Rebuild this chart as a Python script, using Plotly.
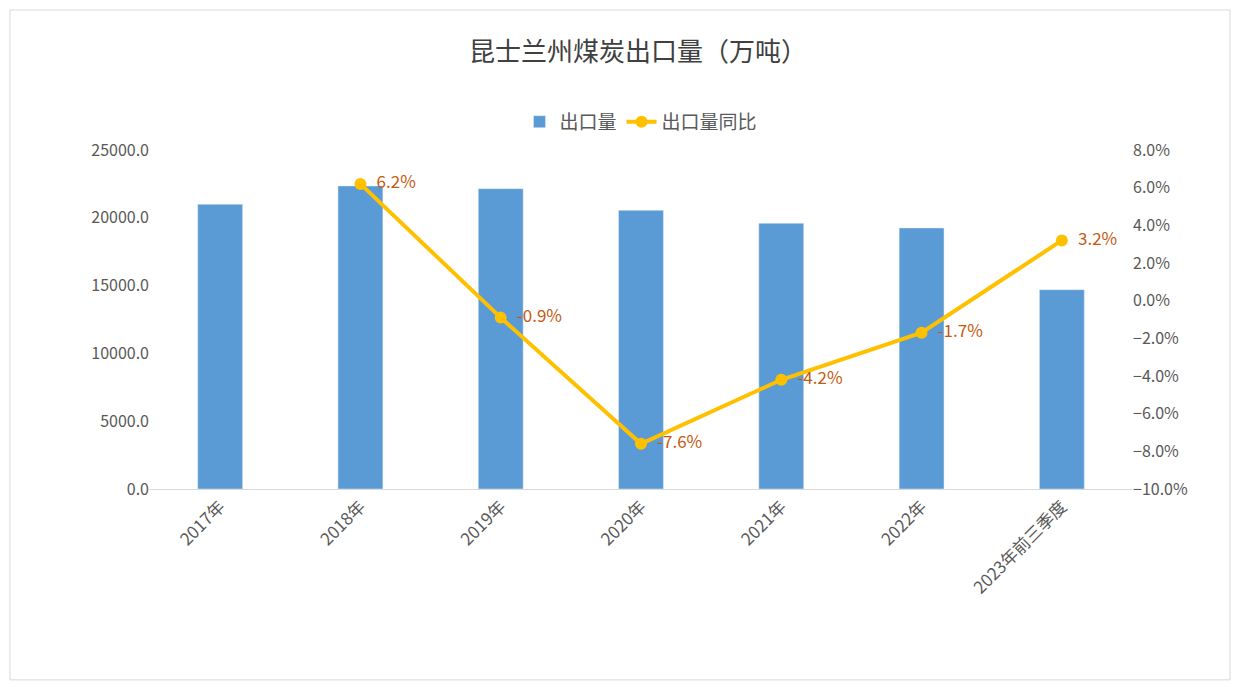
import plotly.graph_objects as go

categories = ["2017年", "2018年", "2019年", "2020年", "2021年", "2022年", "2023年前三季度"]
export_volume = [21000, 22350, 22150, 20550, 19600, 19250, 14700]
yoy_cats = ["2018年", "2019年", "2020年", "2021年", "2022年", "2023年前三季度"]
yoy = [6.2, -0.9, -7.6, -4.2, -1.7, 3.2]
yoy_labels = ["6.2%", "-0.9%", "-7.6%", "-4.2%", "-1.7%", "3.2%"]

font = "Noto Sans CJK SC"
fig = go.Figure()
fig.add_bar(x=categories, y=export_volume, name="出口量", marker_color="#5B9BD5", width=0.32)
fig.add_scatter(x=yoy_cats, y=yoy, name="出口量同比", yaxis="y2", mode="lines+markers+text",
                line=dict(color="#FFC000", width=4), marker=dict(size=12, color="#FFC000"),
                text=["  " + t for t in yoy_labels], textposition="middle right",
                textfont=dict(color="#C55A11", size=17, family=font))
fig.update_layout(
    width=1260, height=692, paper_bgcolor="white", plot_bgcolor="white",
    font=dict(family=font, color="#595959", size=16),
    title=dict(text="昆士兰州煤炭出口量（万吨）", x=0.5, y=0.936, xanchor="center", yanchor="middle",
               font=dict(size=26, color="#404040")),
    legend=dict(orientation="h", x=0.5, xanchor="center", y=1.083, yanchor="middle",
                font=dict(size=19)),
    margin=dict(l=142, r=136, t=142, b=211),
    bargap=0.68,
    xaxis=dict(tickangle=-45, showline=True, linecolor="#D9D9D9", tickfont=dict(size=17)),
    yaxis=dict(range=[0, 25000], dtick=5000, tickformat=".1f", showgrid=False, zeroline=False),
    yaxis2=dict(overlaying="y", side="right", range=[-10, 8], dtick=2, ticksuffix="%",
                tickformat=".1f", showgrid=False, zeroline=False),
    shapes=[dict(type="rect", xref="paper", yref="paper", x0=-0.1426, x1=1.0998, y0=-0.563, y1=1.413,
                 line=dict(color="#D9D9D9", width=1))],
)
fig.write_html("out.html")
